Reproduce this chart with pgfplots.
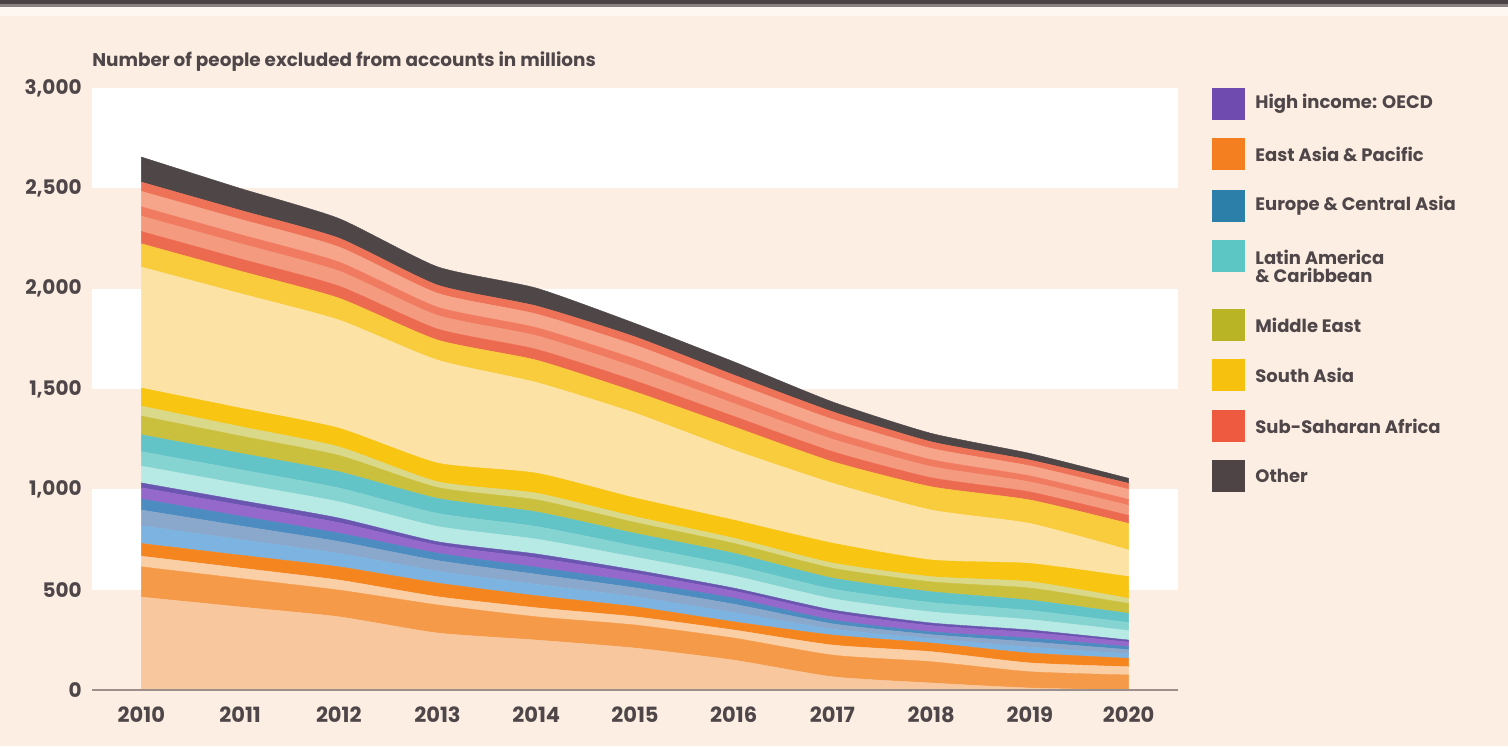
\documentclass[border=0pt]{standalone}
\usepackage{pgfplots}
\pgfplotsset{compat=1.18}
\usepackage{pgfplotstable}
\usepackage{fontspec}
\setmainfont{Poppins}

\definecolor{bgpeach}{HTML}{FCEEE3}
\definecolor{txt}{HTML}{4E4648}
\definecolor{barlight}{HTML}{FDF6F1}
\definecolor{barmid}{HTML}{8A8080}
\definecolor{bardark}{HTML}{4A4244}
\definecolor{axgray}{HTML}{9C8F8C}
\definecolor{cPeach}{HTML}{F8C79E}
\definecolor{cMedOr}{HTML}{F59A48}
\definecolor{cPale}{HTML}{FBCFA6}
\definecolor{cBrOr}{HTML}{F5851F}
\definecolor{cB1}{HTML}{7DB3E0}
\definecolor{cB2}{HTML}{8AA8CB}
\definecolor{cB3}{HTML}{4D8CC0}
\definecolor{cP1}{HTML}{9568CC}
\definecolor{cP2}{HTML}{6A55B0}
\definecolor{cT1}{HTML}{B7EAE4}
\definecolor{cT2}{HTML}{86D4D2}
\definecolor{cT3}{HTML}{63C4C7}
\definecolor{cO1}{HTML}{CBBF3E}
\definecolor{cO2}{HTML}{DAD889}
\definecolor{cYB}{HTML}{F7C512}
\definecolor{cPY}{HTML}{FCE3A5}
\definecolor{cYT}{HTML}{F8CC3C}
\definecolor{cR1}{HTML}{EC6A50}
\definecolor{cR2}{HTML}{F49A7E}
\definecolor{cR3}{HTML}{F07B60}
\definecolor{cR4}{HTML}{F6A58A}
\definecolor{cR5}{HTML}{EE7257}
\definecolor{cOth}{HTML}{4E4647}
\definecolor{lgPur}{HTML}{6F4BB0}
\definecolor{lgOr}{HTML}{F47F20}
\definecolor{lgBl}{HTML}{2B7FA8}
\definecolor{lgTe}{HTML}{5BC6C4}
\definecolor{lgOl}{HTML}{B8B425}
\definecolor{lgYe}{HTML}{F6C20F}
\definecolor{lgRe}{HTML}{EE5A40}
\definecolor{lgOt}{HTML}{4E4446}

\pgfplotstableread{
year peach medor pale bror b1 b2 b3 p1 p2 t1 t2 t3 o1 o2 yb py yt r1 r2 r3 r4 r5 oth
2010 463 151 53 63 89 78 55 56 24 84 72 84 93 50 90 603 116 61 77 46 77 46 125
2011 414 142 52 64 78 68 49 55 23 82 71 82 86 47 92 571 112 61 76 45 76 45 109
2012 365 133 50 66 67 59 42 52 23 81 69 81 81 43 93 539 109 60 75 45 75 44 98
2013 284 140 41 68 60 52 37 40 17 76 65 75 54 29 93 513 100 55 68 41 69 41 91
2014 249 116 45 60 57 50 35 46 20 74 63 73 60 33 100 452 111 54 68 40 68 40 89
2015 209 115 41 50 50 44 31 41 17 64 55 64 54 29 93 423 106 55 68 41 69 41 67
2016 149 110 40 41 47 41 30 35 15 61 52 61 49 26 90 349 116 52 64 39 64 39 66
2017 66 108 50 50 30 26 19 35 15 56 48 55 49 26 99 299 107 50 62 37 62 38 49
2018 35 106 50 43 22 20 14 31 13 55 47 54 49 26 83 249 116 45 56 34 56 33 42
2019 10 81 44 49 30 26 19 28 12 52 45 52 60 32 91 199 117 40 50 30 50 29 33
2020 0 75 41 42 23 20 15 23 10 47 40 46 49 26 108 133 132 40 50 30 50 30 25
}\data

\begin{document}
\begin{tikzpicture}[x=1pt,y=1pt]
\fill[bgpeach] (0,0) rectangle (754,373);
\fill[barlight] (0,365) rectangle (754,370);
\fill[barmid] (0,369.5) rectangle (754,371);
\fill[bardark] (0,371) rectangle (754,373);
% white background bands behind the plot area (500-1000, 1500-2000, 2500-3000)
\fill[white] (46,78.17) rectangle (589,128.33);
\fill[white] (46,178.5) rectangle (589,228.67);
\fill[white] (46,278.83) rectangle (589,329);

\begin{axis}[
  at={(46pt,28pt)}, anchor=south west,
  scale only axis, width=543pt, height=301pt,
  xmin=2009.5, xmax=2020.5, ymin=0, ymax=3000,
  stack plots=y,
  axis on top,
  axis x line*=bottom, axis y line*=left,
  x axis line style={draw=axgray, line width=1pt, -},
  y axis line style={draw=none},
  xtick={2010,...,2020},
  ytick={0,500,...,3000},
  major tick length=0pt,
  tick style={draw=none},
  every axis plot/.append style={smooth, tension=0.35, line width=0.2pt},
  /pgf/number format/assume math mode=true,
  x tick label style={/pgf/number format/1000 sep=, font=\bfseries\fontsize{10.5}{12}\selectfont, text=txt, anchor=north, inner sep=0pt, yshift=-8pt},
  y tick label style={/pgf/number format/1000 sep={,}, font=\bfseries\fontsize{10}{12}\selectfont, text=txt, anchor=east, inner sep=0pt, xshift=-5pt},
  clip=true,
]
\addplot[fill=cPeach, draw=cPeach] table[x=year,y=peach]{\data} \closedcycle;
\addplot[fill=cMedOr, draw=cMedOr] table[x=year,y=medor]{\data} \closedcycle;
\addplot[fill=cPale, draw=cPale] table[x=year,y=pale]{\data} \closedcycle;
\addplot[fill=cBrOr, draw=cBrOr] table[x=year,y=bror]{\data} \closedcycle;
\addplot[fill=cB1, draw=cB1] table[x=year,y=b1]{\data} \closedcycle;
\addplot[fill=cB2, draw=cB2] table[x=year,y=b2]{\data} \closedcycle;
\addplot[fill=cB3, draw=cB3] table[x=year,y=b3]{\data} \closedcycle;
\addplot[fill=cP1, draw=cP1] table[x=year,y=p1]{\data} \closedcycle;
\addplot[fill=cP2, draw=cP2] table[x=year,y=p2]{\data} \closedcycle;
\addplot[fill=cT1, draw=cT1] table[x=year,y=t1]{\data} \closedcycle;
\addplot[fill=cT2, draw=cT2] table[x=year,y=t2]{\data} \closedcycle;
\addplot[fill=cT3, draw=cT3] table[x=year,y=t3]{\data} \closedcycle;
\addplot[fill=cO1, draw=cO1] table[x=year,y=o1]{\data} \closedcycle;
\addplot[fill=cO2, draw=cO2] table[x=year,y=o2]{\data} \closedcycle;
\addplot[fill=cYB, draw=cYB] table[x=year,y=yb]{\data} \closedcycle;
\addplot[fill=cPY, draw=cPY] table[x=year,y=py]{\data} \closedcycle;
\addplot[fill=cYT, draw=cYT] table[x=year,y=yt]{\data} \closedcycle;
\addplot[fill=cR1, draw=cR1] table[x=year,y=r1]{\data} \closedcycle;
\addplot[fill=cR2, draw=cR2] table[x=year,y=r2]{\data} \closedcycle;
\addplot[fill=cR3, draw=cR3] table[x=year,y=r3]{\data} \closedcycle;
\addplot[fill=cR4, draw=cR4] table[x=year,y=r4]{\data} \closedcycle;
\addplot[fill=cR5, draw=cR5] table[x=year,y=r5]{\data} \closedcycle;
\addplot[fill=cOth, draw=cOth] table[x=year,y=oth]{\data} \closedcycle;
\end{axis}

\node[anchor=west, inner sep=0pt, text=txt, font=\bfseries\fontsize{9.2}{10}\selectfont] at (46,342) {Number of people excluded from accounts in millions};

\begin{scope}[every node/.style={anchor=west, inner sep=0pt, text=txt, font=\bfseries\fontsize{9}{10}\selectfont}]
\fill[lgPur] (606,313) rectangle (622.5,329);
\node at (627.5,321) {High income: OECD};
\fill[lgOr] (606,288) rectangle (622.5,304);
\node at (627.5,296) {East Asia \& Pacific};
\fill[lgBl] (606,262) rectangle (622.5,278);
\node at (627.5,270) {Europe \& Central Asia};
\fill[lgTe] (606,237) rectangle (622.5,253);
\node at (627.5,244.5) {Latin America};
\node at (627.5,235.5) {\& Caribbean};
\fill[lgOl] (606,202.5) rectangle (622.5,218.5);
\node at (627.5,210.5) {Middle East};
\fill[lgYe] (606,177.5) rectangle (622.5,193.5);
\node at (627.5,185.5) {South Asia};
\fill[lgRe] (606,152) rectangle (622.5,168);
\node at (627.5,160) {Sub-Saharan Africa};
\fill[lgOt] (606,127) rectangle (622.5,143);
\node at (627.5,135) {Other};
\end{scope}
\end{tikzpicture}
\end{document}
